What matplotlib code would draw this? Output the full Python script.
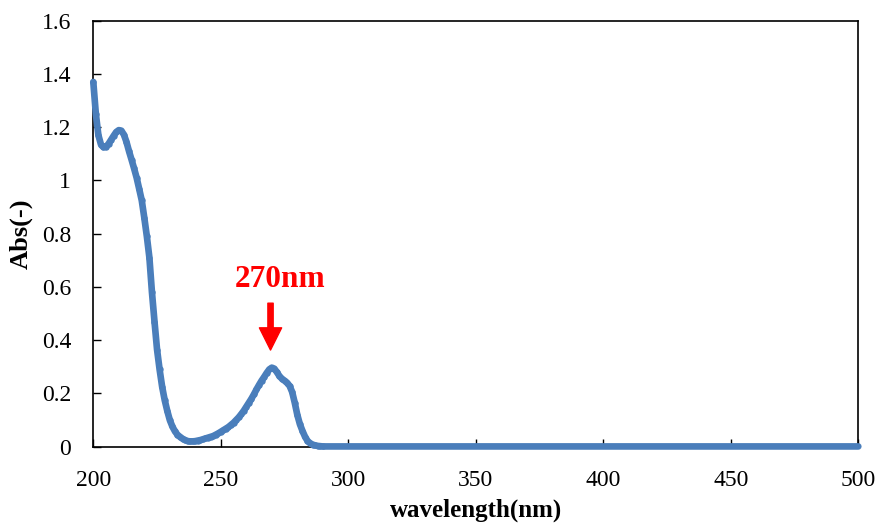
import matplotlib
matplotlib.use("Agg")
import matplotlib.pyplot as plt

# wavelength (nm) and absorbance values
wavelength = list(range(200, 291)) + [295, 300, 320, 340, 360, 380, 400, 420, 440, 460, 480, 500]
absorbance = [
    1.37, 1.25, 1.17, 1.135, 1.125, 1.126, 1.138, 1.153, 1.168, 1.182,   # 200-209
    1.189, 1.187, 1.172, 1.145, 1.110, 1.078, 1.045, 1.010, 0.968, 0.925,  # 210-219
    0.860, 0.790, 0.710, 0.580, 0.470, 0.365, 0.290, 0.225, 0.175, 0.135,  # 220-229
    0.100, 0.076, 0.058, 0.045, 0.037, 0.030, 0.025, 0.021, 0.020, 0.020,  # 230-239
    0.021, 0.023, 0.025, 0.028, 0.031, 0.034, 0.037, 0.040, 0.045, 0.050,  # 240-249
    0.056, 0.062, 0.068, 0.074, 0.082, 0.090, 0.100, 0.110, 0.122, 0.135,  # 250-259
    0.150, 0.165, 0.180, 0.197, 0.215, 0.232, 0.248, 0.262, 0.277, 0.290,  # 260-269
    0.297, 0.293, 0.280, 0.265, 0.255, 0.248, 0.240, 0.228, 0.205, 0.165,  # 270-279
    0.120, 0.085, 0.060, 0.038, 0.022, 0.013, 0.008, 0.005, 0.003, 0.002,  # 280-289
    0.001,                                                                   # 290
    0.001, 0.001, 0.001, 0.001, 0.001, 0.001, 0.001, 0.001, 0.001, 0.001, 0.001, 0.001,
]

xticks = [200, 250, 300, 350, 400, 450, 500]
yticks = [0, 0.2, 0.4, 0.6, 0.8, 1.0, 1.2, 1.4, 1.6]
ytick_labels = ["0", "0.2", "0.4", "0.6", "0.8", "1", "1.2", "1.4", "1.6"]

peak_label = "270nm"
peak_x = 269.5

plt.rcParams['font.family'] = ['Liberation Serif', 'DejaVu Serif']

fig = plt.figure(figsize=(8.79, 5.24), dpi=100)
ax = fig.add_axes([93.3 / 879, (524 - 446.7) / 524, (858.3 - 93.3) / 879, (446.7 - 20.7) / 524])

color = '#4A7EBB'
ax.plot(wavelength, absorbance, color=color, lw=4.8, solid_capstyle='round',
        solid_joinstyle='round', zorder=3, clip_on=False)
ax.plot(wavelength[:91], absorbance[:91], 'o', color=color, ms=4.6, mew=0, zorder=4, clip_on=False)

ax.set_xlim(200, 500)
ax.set_ylim(0, 1.6)
ax.set_xticks(xticks)
ax.set_yticks(yticks)
ax.set_yticklabels(ytick_labels)
ax.tick_params(axis='both', direction='in', length=6, width=1, labelsize=17, colors='black')
ax.tick_params(axis='y', pad=16)
ax.tick_params(axis='x', pad=17)
for s in ax.spines.values():
    s.set_linewidth(1.2)
    s.set_color('black')

ax.set_xlabel('wavelength(nm)', fontsize=18, fontweight='bold', labelpad=5)
ax.set_ylabel('Abs(-)', fontsize=19, fontweight='bold', labelpad=6)

ax.annotate('', xy=(peak_x, 0.363), xytext=(peak_x, 0.539),
            arrowprops=dict(facecolor='red', edgecolor='red', width=3.8, headwidth=16,
                            headlength=16, shrink=0.0))
ax.text(273.1, 0.629, peak_label, color='red', fontsize=22.5, fontweight='bold',
        ha='center', va='center')

fig.savefig('out.png', dpi=100)
